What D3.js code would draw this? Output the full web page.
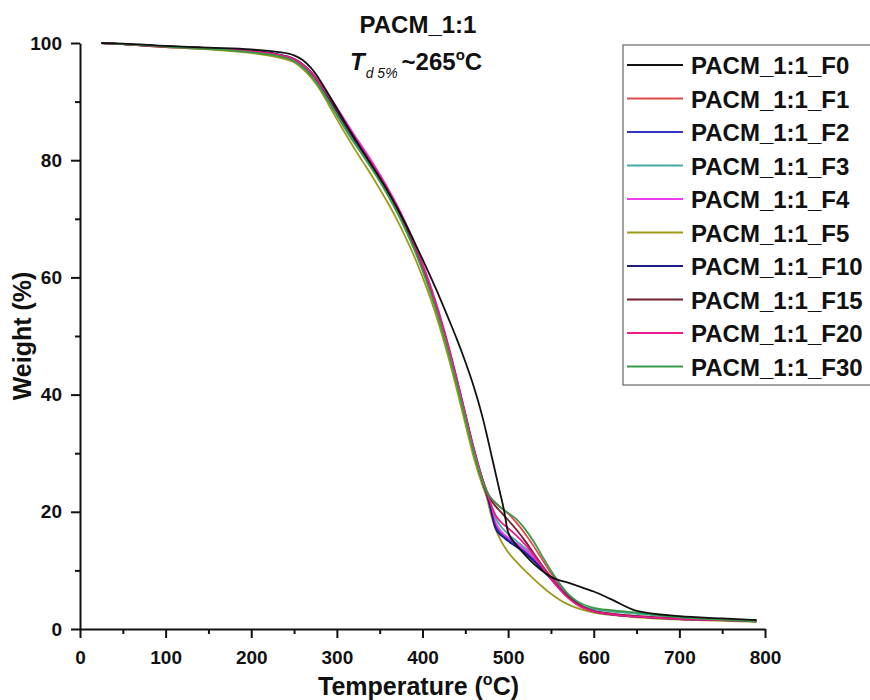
<!DOCTYPE html>
<html>
<head>
<meta charset="utf-8">
<script src="https://cdn.jsdelivr.net/npm/d3@7"></script>
<style>
  body { margin: 0; background: #fff; }
  svg { font-family: "Liberation Sans", Arial, sans-serif; }
  .tickText { font-size: 19px; font-weight: bold; fill: #111; }
</style>
</head>
<body>
<div id="chart"></div>
<script>
// temperature grid (°C)
var temps = [25,50,100,150,200,230,250,260,270,280,290,300,310,320,330,340,350,360,370,380,390,400,410,420,430,440,450,460,470,475,480,485,490,495,500,510,520,530,540,550,560,570,580,600,620,650,700,750,790];

// weight (%) per sample
var wF0  = [100,99.9,99.5,99.2,98.9,98.5,97.9,97.1,95.7,93.7,91.3,88.8,86.3,83.9,81.6,79.3,77.0,74.6,72.0,69.2,66.2,63.1,59.9,56.6,53.1,49.5,45.6,41.3,36.2,33.2,30.0,26.8,23.6,20.4,16.5,14.3,12.6,11.1,9.9,8.9,8.3,7.9,7.4,6.4,5.1,3.1,2.2,1.8,1.5];
var wF1  = [100,99.8,99.3,99.0,98.5,97.9,97.1,96.2,94.8,92.9,90.9,88.6,86.2,83.9,81.7,79.5,77.2,74.7,72.0,69.0,65.7,62.0,57.9,53.3,48.2,42.6,36.6,30.7,25.6,23.6,22.2,21.5,20.9,20.3,19.7,18.1,16.2,14.1,11.8,9.5,7.4,5.7,4.5,3.1,2.6,2.2,1.8,1.6,1.5];
var wF2  = [100,99.8,99.4,99.1,98.6,98.0,97.2,96.3,94.9,92.9,90.6,88.2,85.8,83.5,81.3,79.1,76.8,74.3,71.6,68.6,65.3,61.6,57.5,52.9,47.8,42.2,36.3,30.3,25.2,23.0,20.5,17.8,16.6,15.9,15.3,14.3,13.2,11.9,10.4,8.8,7.2,5.7,4.5,3.1,2.5,2.1,1.7,1.5,1.3];
var wF3  = [100,99.8,99.4,99.0,98.5,97.9,97.0,96.0,94.5,92.5,90.2,87.8,85.4,83.1,81.0,78.8,76.5,74.0,71.3,68.3,65.0,61.3,57.2,52.6,47.5,41.9,36.0,30.2,25.2,23.2,21.0,19.0,17.8,16.9,16.2,15.0,13.8,12.3,10.6,8.8,7.0,5.4,4.3,3.4,3.0,2.6,2.0,1.6,1.3];
var wF4  = [100,99.8,99.3,99.0,98.5,97.9,97.1,96.3,95.0,93.2,91.2,89.0,86.7,84.4,82.2,80.0,77.6,75.1,72.4,69.4,66.1,62.4,58.3,53.7,48.5,42.8,36.8,30.8,25.6,23.4,20.8,18.3,17.0,16.2,15.6,14.6,13.5,12.2,10.6,8.9,7.1,5.5,4.3,3.0,2.5,2.1,1.7,1.5,1.4];
var wF5  = [100,99.8,99.3,98.9,98.3,97.6,96.7,95.6,94.1,92.1,89.6,87.0,84.5,82.1,79.8,77.5,75.1,72.6,69.9,66.9,63.7,60.1,56.1,51.6,46.5,40.9,35.0,29.2,24.5,22.5,19.5,17.2,15.5,14.2,13.1,11.4,9.9,8.5,7.2,6.0,5.0,4.2,3.6,2.8,2.4,2.0,1.6,1.4,1.2];
var wF10 = [100,99.8,99.4,99.1,98.7,98.1,97.3,96.4,95.0,93.1,90.8,88.4,86.0,83.7,81.5,79.3,77.0,74.5,71.8,68.8,65.5,61.8,57.7,53.1,48.0,42.4,36.4,30.4,25.2,23.0,20.2,17.3,16.2,15.6,15.0,14.0,12.9,11.6,10.1,8.5,6.9,5.5,4.3,3.0,2.5,2.1,1.7,1.5,1.3];
var wF15 = [100,99.8,99.4,99.1,98.6,98.0,97.2,96.3,94.9,93.0,90.9,88.5,86.1,83.8,81.6,79.4,77.1,74.6,71.9,68.9,65.6,61.9,57.8,53.2,48.1,42.5,36.5,30.6,25.5,23.5,22.0,21.0,20.2,19.4,18.6,16.9,15.0,12.9,10.8,8.8,7.0,5.5,4.4,3.1,2.6,2.2,1.8,1.6,1.5];
var wF20 = [100,99.8,99.4,99.1,98.6,98.0,97.2,96.3,95.0,93.1,91.1,88.8,86.4,84.1,81.9,79.7,77.4,74.9,72.2,69.2,65.9,62.2,58.1,53.5,48.4,42.7,36.7,30.7,25.6,23.4,21.3,19.5,18.5,17.8,17.2,15.9,14.4,12.6,10.6,8.6,6.8,5.3,4.2,3.0,2.5,2.1,1.7,1.5,1.3];
var wF30 = [100,99.8,99.4,99.0,98.4,97.8,96.9,95.9,94.4,92.4,90.1,87.7,85.3,83.0,80.9,78.7,76.4,73.9,71.2,68.2,64.9,61.2,57.1,52.5,47.4,41.9,36.0,30.2,25.3,23.5,22.4,21.6,20.9,20.3,19.8,18.7,17.0,14.9,12.4,10.0,7.8,6.0,4.8,3.6,3.2,2.8,2.0,1.6,1.3];

var seriesNames = ["PACM_1:1_F0","PACM_1:1_F1","PACM_1:1_F2","PACM_1:1_F3","PACM_1:1_F4","PACM_1:1_F5","PACM_1:1_F10","PACM_1:1_F15","PACM_1:1_F20","PACM_1:1_F30"];
var seriesValues = [wF0, wF1, wF2, wF3, wF4, wF5, wF10, wF15, wF20, wF30];
var seriesColors = ["#111111","#e24a4a","#3434c8","#45a9a9","#f03cf0","#9c9a18","#1c1c86","#74202e","#ec1a8c","#3a9a48"];

var xTicks = [0,100,200,300,400,500,600,700,800];
var yTicks = [0,20,40,60,80,100];

function drawChart(element){

    const widthSvg = 870;
    const heightSvg = 700;
    const margin = {top: 43, right: 105, bottom: 71, left: 80};
    const width = widthSvg - (margin.left + margin.right);
    const height = heightSvg - (margin.top + margin.bottom);

    const svg = d3.create("svg")
        .attr("width", widthSvg)
        .attr("height", heightSvg);
    d3.select(element).append(() => svg.node());

    var x = d3.scaleLinear().domain([0, 800]).range([0, width]),
        y = d3.scaleLinear().domain([0, 100]).range([height, 0]);

    var g = svg.append("g")
        .attr("transform", "translate(" + margin.left + "," + margin.top + ")");

    // minor ticks first, then major
    g.append("g")
        .attr("transform", "translate(0," + height + ")")
        .call(d3.axisBottom(x).tickValues(d3.range(50, 800, 100)).tickSize(5).tickSizeOuter(0).tickFormat(""))
        .call(s => s.select(".domain").remove());
    g.append("g")
        .call(d3.axisLeft(y).tickValues(d3.range(10, 100, 20)).tickSize(5).tickSizeOuter(0).tickFormat(""))
        .call(s => s.select(".domain").remove());

    var xAxis = g.append("g")
        .attr("transform", "translate(0," + height + ")")
        .call(d3.axisBottom(x).tickValues(xTicks).tickSize(9).tickPadding(13).tickSizeOuter(0));
    var yAxis = g.append("g")
        .call(d3.axisLeft(y).tickValues(yTicks).tickSize(9).tickPadding(9).tickSizeOuter(0));

    [xAxis, yAxis].forEach(function(a){
        a.select(".domain").attr("stroke", "#111").attr("stroke-width", 2);
        a.selectAll(".tick text").attr("class", "tickText").attr("font-size", null).attr("font-family", null);
    });
    g.selectAll("g").selectAll(".tick line").attr("stroke", "#111").attr("stroke-width", 2);

    // curves
    var line = d3.line()
        .x(function(d, i) { return x(temps[i]); })
        .y(function(d) { return y(d); })
        .curve(d3.curveMonotoneX);

    var order = [1,2,3,4,5,6,7,8,9,0];
    order.forEach(function(k){
        g.append("path")
            .datum(seriesValues[k])
            .attr("fill", "none")
            .attr("stroke", seriesColors[k])
            .attr("stroke-width", 1.8)
            .attr("d", line);
    });

    // axis titles
    var xt = svg.append("text")
        .attr("x", margin.left + width / 2 - 4)
        .attr("y", 695)
        .attr("text-anchor", "middle")
        .attr("font-size", 25)
        .attr("font-weight", "bold")
        .attr("fill", "#111");
    xt.append("tspan").text("Temperature (");
    xt.append("tspan").attr("font-size", 16).attr("dy", -10).text("o");
    xt.append("tspan").attr("dy", 10).text("C)");

    svg.append("text")
        .attr("transform", "translate(31," + (margin.top + height / 2) + ") rotate(-90)")
        .attr("text-anchor", "middle")
        .attr("font-size", 25)
        .attr("font-weight", "bold")
        .attr("fill", "#111")
        .text("Weight (%)");

    // title and annotation
    svg.append("text")
        .attr("x", 418).attr("y", 33)
        .attr("text-anchor", "middle")
        .attr("font-size", 24)
        .attr("font-weight", "bold")
        .attr("fill", "#111")
        .text("PACM_1:1");

    var td = svg.append("text")
        .attr("x", 350).attr("y", 70)
        .attr("font-size", 24)
        .attr("font-weight", "bold")
        .attr("fill", "#111");
    td.append("tspan").attr("font-style", "italic").text("T");
    td.append("tspan").attr("font-style", "italic").attr("font-weight", "normal").attr("font-size", 14).attr("dy", 8).attr("dx", 1).text("d 5%");
    td.append("tspan").attr("dy", -8).attr("dx", 4).text("~265");
    td.append("tspan").attr("font-size", 15).attr("dy", -10).text("o");
    td.append("tspan").attr("dy", 10).text("C");

    // legend
    var lg = svg.append("g").attr("transform", "translate(623,45)");
    lg.append("rect")
        .attr("x", 0).attr("y", 0)
        .attr("width", 270).attr("height", 340)
        .attr("fill", "#fff")
        .attr("stroke", "#666")
        .attr("stroke-width", 1.2);

    var item = lg.selectAll(".item")
        .data(seriesNames)
        .enter()
        .append("g")
        .attr("class", "item")
        .attr("transform", function(d, i) { return "translate(0," + (20 + i * 33.5) + ")"; });

    item.append("line")
        .attr("x1", 4).attr("x2", 60)
        .attr("stroke", function(d, i) { return seriesColors[i]; })
        .attr("stroke-width", 2);

    item.append("text")
        .attr("x", 68).attr("y", 9)
        .attr("font-size", 24)
        .attr("font-weight", "bold")
        .attr("fill", "#111")
        .text(function(d) { return d; });
}

drawChart("#chart");
</script>
</body>
</html>
